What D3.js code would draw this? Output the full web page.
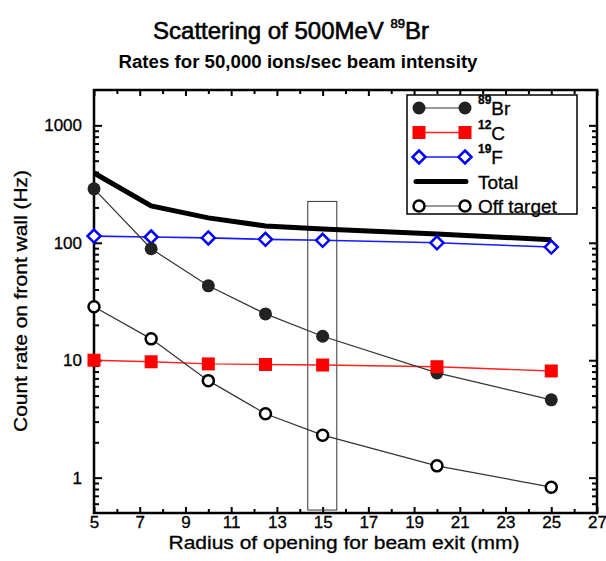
<!DOCTYPE html>
<html>
<head>
<meta charset="utf-8">
<script src="https://cdn.jsdelivr.net/npm/d3@7"></script>
<style>
  body { margin: 0; background: #fff; }
  svg { font-family: "Liberation Sans", Arial, Helvetica, sans-serif; }
</style>
</head>
<body>
<svg></svg>
<script>
const width = 606;
const height = 561;

/* values */
const radius = [5, 7.5, 10, 12.5, 15, 20, 25];
const brRate = [288, 89, 43, 24.8, 16, 7.8, 4.6];
const cRate = [10, 9.7, 9.3, 9.2, 9.1, 8.8, 8.1];
const fRate = [114, 112, 110, 107, 105, 100, 92];
const totalRate = [393, 206, 163, 139, 131, 119, 106];
const offTargetRate = [28.5, 15.2, 6.7, 3.5, 2.3, 1.26, 0.83];

const xTicks = [5, 7, 9, 11, 13, 15, 17, 19, 21, 23, 25, 27];
const xMinorTicks = [6, 8, 10, 12, 14, 16, 18, 20, 22, 24, 26];
const yTicks = [1, 10, 100, 1000];

/* the box drawn round the 15 mm point */
const boxX = [14.35, 15.62];
const boxY = [0.53, 225];

const plotLeft = 94, plotRight = 597, plotTop = 90, plotBottom = 513;

const svg = d3.select('svg')
  .attr('width', width)
  .attr('height', height);

const x = d3.scaleLinear().domain([5, 27]).range([plotLeft, plotRight]);
const y = d3.scaleLog().domain([0.5, 2000]).range([plotBottom, plotTop]);

/* titles */
const title = svg.append('text')
  .attr('x', 291)
  .attr('y', 39)
  .style('text-anchor', 'middle')
  .style('font-size', '24px')
  .attr('stroke', '#000')
  .attr('stroke-width', 0.6);
title.append('tspan').text('Scattering of 500MeV ');
title.append('tspan').attr('dy', -11).style('font-size', '13px').text('89');
title.append('tspan').attr('dy', 11).text('Br');

svg.append('text')
  .attr('x', 298)
  .attr('y', 68)
  .style('text-anchor', 'middle')
  .style('font-size', '18px')
  .style('font-weight', 'bold')
  .attr('textLength', 359)
  .attr('lengthAdjust', 'spacingAndGlyphs')
  .text('Rates for 50,000 ions/sec beam intensity');

/* axes, ticks pointing inwards on all four sides */
const yMinor = y.ticks().filter(v => !yTicks.includes(v) && v > 0.5 && v < 2000);

svg.append('g')
  .attr('class', 'axis')
  .attr('transform', `translate(0,${plotBottom})`)
  .call(d3.axisBottom(x).tickValues(xTicks).tickSizeInner(-6).tickSizeOuter(0)
    .tickPadding(3).tickFormat(d3.format('d')));
svg.append('g')
  .attr('class', 'axis')
  .attr('transform', `translate(0,${plotBottom})`)
  .call(d3.axisBottom(x).tickValues(xMinorTicks).tickSizeInner(-4).tickSizeOuter(0).tickFormat(''));
svg.append('g')
  .attr('class', 'axis')
  .attr('transform', `translate(0,${plotTop})`)
  .call(d3.axisTop(x).tickValues(xTicks).tickSizeInner(-6).tickSizeOuter(0).tickFormat(''));
svg.append('g')
  .attr('class', 'axis')
  .attr('transform', `translate(0,${plotTop})`)
  .call(d3.axisTop(x).tickValues(xMinorTicks).tickSizeInner(-4).tickSizeOuter(0).tickFormat(''));

svg.append('g')
  .attr('class', 'axis')
  .attr('transform', `translate(${plotLeft},0)`)
  .call(d3.axisLeft(y).tickValues(yTicks).tickSizeInner(-8).tickSizeOuter(0)
    .tickPadding(12).tickFormat(d3.format('d')));
svg.append('g')
  .attr('class', 'axis')
  .attr('transform', `translate(${plotLeft},0)`)
  .call(d3.axisLeft(y).tickValues(yMinor).tickSizeInner(-5).tickSizeOuter(0).tickFormat(''));
svg.append('g')
  .attr('class', 'axis')
  .attr('transform', `translate(${plotRight},0)`)
  .call(d3.axisRight(y).tickValues(yTicks).tickSizeInner(-8).tickSizeOuter(0).tickFormat(''));
svg.append('g')
  .attr('class', 'axis')
  .attr('transform', `translate(${plotRight},0)`)
  .call(d3.axisRight(y).tickValues(yMinor).tickSizeInner(-5).tickSizeOuter(0).tickFormat(''));

svg.selectAll('.axis .domain').remove();
svg.selectAll('.axis line').attr('stroke', '#000').attr('stroke-width', 2);
svg.selectAll('.axis text').style('font-size', '17px').attr('fill', '#000')
  .attr('stroke', '#000').attr('stroke-width', 0.3)
  .style('font-family', '"Liberation Sans", Arial, sans-serif');

/* frame */
svg.append('rect')
  .attr('x', plotLeft)
  .attr('y', plotTop)
  .attr('width', plotRight - plotLeft)
  .attr('height', plotBottom - plotTop)
  .attr('fill', 'none')
  .attr('stroke', '#000')
  .attr('stroke-width', 2.5);

/* axis labels */
svg.append('text')
  .attr('x', 344)
  .attr('y', 549)
  .style('text-anchor', 'middle')
  .style('font-size', '18px')
  .attr('stroke', '#000')
  .attr('stroke-width', 0.3)
  .attr('textLength', 351)
  .attr('lengthAdjust', 'spacingAndGlyphs')
  .text('Radius of opening for beam exit (mm)');

svg.append('text')
  .attr('transform', 'translate(27,301) rotate(-90)')
  .style('text-anchor', 'middle')
  .style('font-size', '18px')
  .attr('stroke', '#000')
  .attr('stroke-width', 0.3)
  .attr('textLength', 262)
  .attr('lengthAdjust', 'spacingAndGlyphs')
  .text('Count rate on front wall (Hz)');

/* box round the 15 mm point */
svg.append('rect')
  .attr('x', x(boxX[0]))
  .attr('y', y(boxY[1]))
  .attr('width', x(boxX[1]) - x(boxX[0]))
  .attr('height', y(boxY[0]) - y(boxY[1]))
  .attr('fill', 'none')
  .attr('stroke', '#333')
  .attr('stroke-width', 1);

/* series */
const line = d3.line()
  .x(d => x(d[0]))
  .y(d => y(d[1]));

const zip = vals => radius.map((r, i) => [r, vals[i]]);

function drawLine(vals, color, w) {
  svg.append('path')
    .datum(zip(vals))
    .attr('d', line)
    .attr('fill', 'none')
    .attr('stroke', color)
    .attr('stroke-width', w);
}

drawLine(cRate, '#ff2020', 1.4);
drawLine(fRate, '#1a1aff', 1.6);
drawLine(brRate, '#333', 1.2);
drawLine(offTargetRate, '#333', 1.2);
drawLine(totalRate, '#000', 5);

function marker(g, kind) {
  if (kind === 'filled') {
    g.append('circle').attr('r', 6.5).attr('fill', '#222');
  } else if (kind === 'square') {
    g.append('rect').attr('x', -6.5).attr('y', -6.5).attr('width', 13).attr('height', 13)
      .attr('fill', '#ff0000');
  } else if (kind === 'diamond') {
    g.append('path').attr('d', 'M0,-6.5L6.5,0L0,6.5L-6.5,0Z')
      .attr('fill', '#fff').attr('stroke', '#0000ff').attr('stroke-width', 2.5);
  } else if (kind === 'open') {
    g.append('circle').attr('r', 5.5).attr('fill', '#fff')
      .attr('stroke', '#000').attr('stroke-width', 2.5);
  }
}

function drawPoints(vals, kind) {
  svg.append('g')
    .selectAll('g')
    .data(zip(vals))
    .join('g')
      .attr('transform', d => `translate(${x(d[0])},${y(d[1])})`)
      .each(function() { marker(d3.select(this), kind); });
}

drawPoints(fRate, 'diamond');
drawPoints(brRate, 'filled');
drawPoints(offTargetRate, 'open');
drawPoints(cRate, 'square');

/* legend */
const legendItems = [
  { sup: '89', name: 'Br', kind: 'filled', color: '#333', w: 1.2 },
  { sup: '12', name: 'C', kind: 'square', color: '#ff2020', w: 1.4 },
  { sup: '19', name: 'F', kind: 'diamond', color: '#1a1aff', w: 1.6 },
  { sup: '', name: 'Total', kind: 'none', color: '#000', w: 5 },
  { sup: '', name: 'Off target', kind: 'open', color: '#333', w: 1.2 }
];

const legend = svg.append('g');
legend.append('rect')
  .attr('x', 407)
  .attr('y', 95)
  .attr('width', 170)
  .attr('height', 119)
  .attr('fill', '#fff')
  .attr('stroke', '#000')
  .attr('stroke-width', 1.5);

legendItems.forEach((item, i) => {
  const cy = 108 + i * 24.5;
  const row = legend.append('g').attr('transform', `translate(0,${cy})`);
  if (item.kind === 'none') {
    row.append('line').attr('x1', 416).attr('x2', 466)
      .attr('stroke', item.color).attr('stroke-width', item.w).attr('stroke-linecap', 'round');
  } else {
    row.append('line').attr('x1', 419).attr('x2', 465)
      .attr('stroke', item.color).attr('stroke-width', item.w);
    marker(row.append('g').attr('transform', 'translate(419,0)'), item.kind);
    marker(row.append('g').attr('transform', 'translate(465,0)'), item.kind);
  }
  const t = row.append('text')
    .attr('x', 478)
    .attr('y', 7)
    .style('font-size', '19px')
    .attr('stroke', '#000')
    .attr('stroke-width', 0.3);
  if (item.sup) {
    t.append('tspan').attr('dy', -11).style('font-size', '12px').style('font-weight', 'bold').text(item.sup);
    t.append('tspan').attr('dy', 11).text(item.name);
  } else {
    t.text(item.name);
  }
});
</script>
</body>
</html>
